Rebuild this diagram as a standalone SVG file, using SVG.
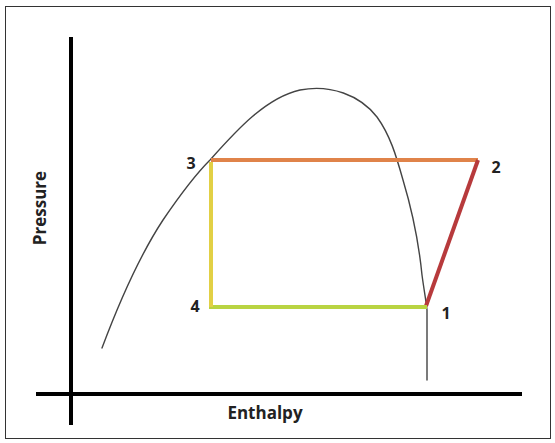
<svg xmlns="http://www.w3.org/2000/svg" width="555" height="443" viewBox="0 0 555 443">
<style>
.lbl{font-family:"Open Sans","Liberation Sans",sans-serif;font-weight:bold;fill:#222}
.ax{font-size:17px}
.num{font-size:16px}
.axis{stroke:#000;stroke-width:4;fill:none}
.seg{stroke-width:4;fill:none;stroke-linecap:butt}
.dome{stroke:#444;stroke-width:1.4;fill:none;stroke-linecap:round}
</style>
<rect x="0" y="0" width="555" height="443" fill="#fff"/>
<rect x="5.5" y="6.5" width="545" height="432" fill="none" stroke="#333" stroke-width="1"/>
<g id="axes">
<line class="axis" x1="71" y1="37" x2="71" y2="425"/>
<line class="axis" x1="36" y1="394" x2="522" y2="394"/>
<text class="lbl ax" x="265" y="419" text-anchor="middle">Enthalpy</text>
<text class="lbl ax" transform="translate(46,208) rotate(-90)" text-anchor="middle">Pressure</text>
</g>
<g id="dome">
<path class="dome" d="M102,348 C120,300 140,255 163,220 C180,195 195,175 210,160 C235,132 265,98 300,90 C330,84 360,95 377,117 C390,135 396,155 403,180 C412,210 419,245 422,275 C424,290 426,300 427,310 L427,380"/>
</g>
<g id="connectors">
<line class="seg" stroke="#e0834a" x1="211" y1="160" x2="478" y2="160"/>
<line class="seg" stroke="#b73a3c" x1="478" y1="160" x2="426" y2="306"/>
<line class="seg" stroke="#b9d442" x1="209" y1="307" x2="427" y2="307"/>
<line class="seg" stroke="#e2d045" x1="211" y1="162" x2="211" y2="307"/>
</g>
<g id="node1"><text class="lbl num" x="446" y="319" text-anchor="middle">1</text></g>
<g id="node2"><text class="lbl num" x="496" y="173" text-anchor="middle">2</text></g>
<g id="node3"><text class="lbl num" x="191" y="169" text-anchor="middle">3</text></g>
<g id="node4"><text class="lbl num" x="195" y="312" text-anchor="middle">4</text></g>
</svg>
